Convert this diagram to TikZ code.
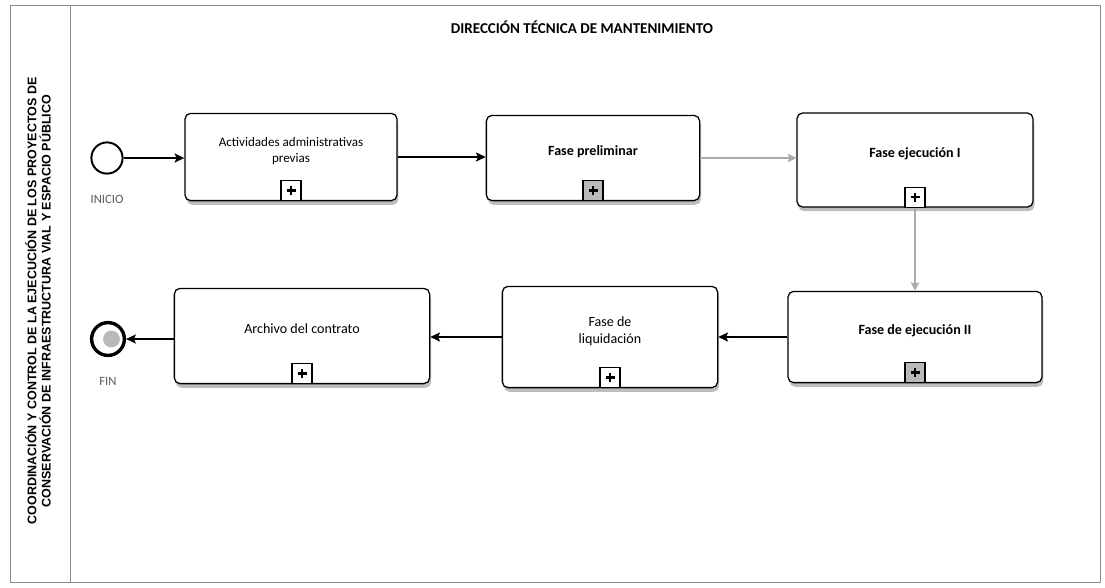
\documentclass[tikz,border=0pt]{standalone}
\usepackage{fontspec}
\setmainfont{Carlito}
\newfontfamily\lanefont{Liberation Sans}
\usepackage{tikz}
\usetikzlibrary{arrows.meta}
\usetikzlibrary{shadows}
\usetikzlibrary{positioning}
\definecolor{FrameGray}{HTML}{8C8C8C}
\definecolor{FlowGray}{HTML}{ABABAB}
\definecolor{ShadowGray}{HTML}{BDBDBD}
\definecolor{LabelGray}{HTML}{5A5A5A}

\tikzset{
  frame/.style={FrameGray, line width=0.7pt},
  lanetext/.style={rotate=90, align=center, font=\lanefont\bfseries\fontsize{8.9}{10}\selectfont},
  titletext/.style={font=\bfseries\fontsize{10.7}{12}\selectfont},
  task/.style 2 args={draw, line width=0.9pt, rounded corners=4pt, fill=white,
    minimum width=#1, minimum height=#2, align=center, text depth=10pt,
    font=\fontsize{10}{12}\selectfont,
    drop shadow={shadow xshift=1pt, shadow yshift=-3pt, fill=ShadowGray, opacity=1}},
  marker/.style={draw, line width=0.8pt, fill=white, minimum size=0.5cm, inner sep=0pt, anchor=south,
    path picture={
      \draw[line width=1.8pt] (path picture bounding box.center) +(-3.2pt,0) -- +(3.2pt,0);
      \draw[line width=1.8pt] (path picture bounding box.center) +(0,-3.2pt) -- +(0,3.2pt);}},
  inicioev/.style={circle, draw, line width=1.4pt, minimum size=0.78cm, inner sep=0pt},
  finev/.style={circle, draw, line width=2.4pt, minimum size=0.82cm, inner sep=0pt,
    path picture={\fill[gray!55] ([xshift=2.5pt]path picture bounding box.center) circle (6pt);}},
  evtext/.style={text=LabelGray, font=\fontsize{9}{10}\selectfont},
  flow/.style={line width=1pt, -{Stealth[length=7pt, width=6.5pt, inset=1.5pt]}},
  flowgray/.style={FlowGray, line width=1.8pt, -{Stealth[length=6pt, width=6pt, inset=1pt]}}
}

\begin{document}
\begin{tikzpicture}[x=0.025cm, y=-0.025cm]
  \useasboundingbox (0,0) rectangle (1105,587);
  % pool and lane header
  \draw[frame] (10,5) rectangle (1100,582);
  \draw[frame] (70,5) -- (70,582);
  \node[lanetext] (carril) at (38,301)
    {COORDINACIÓN Y CONTROL DE LA EJECUCIÓN DE LOS PROYECTOS DE\\
     CONSERVACIÓN DE INFRAESTRUCTURA VIAL Y ESPACIO PÚBLICO};
  \node[titletext] (direccion) at (582,27) {DIRECCIÓN TÉCNICA DE MANTENIMIENTO};

  % events
  \node[inicioev] (inicio) at (107,158) {};
  \node[evtext, below=0.4cm of inicio] (inicio-txt) {INICIO};
  \node[finev] (fin) at (108,339) {};
  \node[evtext, below=0.38cm of fin] (fin-txt) {FIN};

  % subprocesses, top row
  \node[task={5.3cm}{2.18cm}, font=\fontsize{9.3}{11.5}\selectfont] (previas) at (291,157)
    {Actividades administrativas\\previas};
  \node[task={5.33cm}{2.13cm}, font=\bfseries] (preliminar) at (593,158) {Fase preliminar};
  \node[task={5.9cm}{2.35cm}, font=\bfseries] (ejecucion1) at (915,160) {Fase ejecución I};
  % subprocesses, bottom row
  \node[task={6.35cm}{2.28cm}, font=\bfseries] (ejecucion2) at (915,337) {Fase de ejecución II};
  \node[task={5.38cm}{2.53cm}] (liquidacion) at (610,337) {Fase de\\liquidación};
  \node[task={6.38cm}{2.38cm}] (archivo) at (302,336) {Archivo del contrato};

  % collapsed markers
  \node[marker] (m-previas) at (previas.south) {};
  \node[marker, fill=gray!55] (m-preliminar) at (preliminar.south) {};
  \node[marker] (m-ejecucion1) at (ejecucion1.south) {};
  \node[marker, fill=gray!55] (m-ejecucion2) at (ejecucion2.south) {};
  \node[marker] (m-liquidacion) at (liquidacion.south) {};
  \node[marker] (m-archivo) at (archivo.south) {};

  % sequence flows
  \draw[flow] (inicio) -- (inicio -| previas.west);
  \draw[flow] (previas.east) -- (previas.east -| preliminar.west);
  \draw[flowgray] (preliminar.east) -- (preliminar.east -| ejecucion1.west);
  \draw[flowgray] (m-ejecucion1.south) -- (ejecucion2.north);
  \draw[flow] (ejecucion2.west) -- (ejecucion2.west -| liquidacion.east);
  \draw[flow] (liquidacion.west) -- (liquidacion.west -| archivo.east);
  \draw[flow] (archivo.west |- fin) -- (fin);
\end{tikzpicture}
\end{document}
